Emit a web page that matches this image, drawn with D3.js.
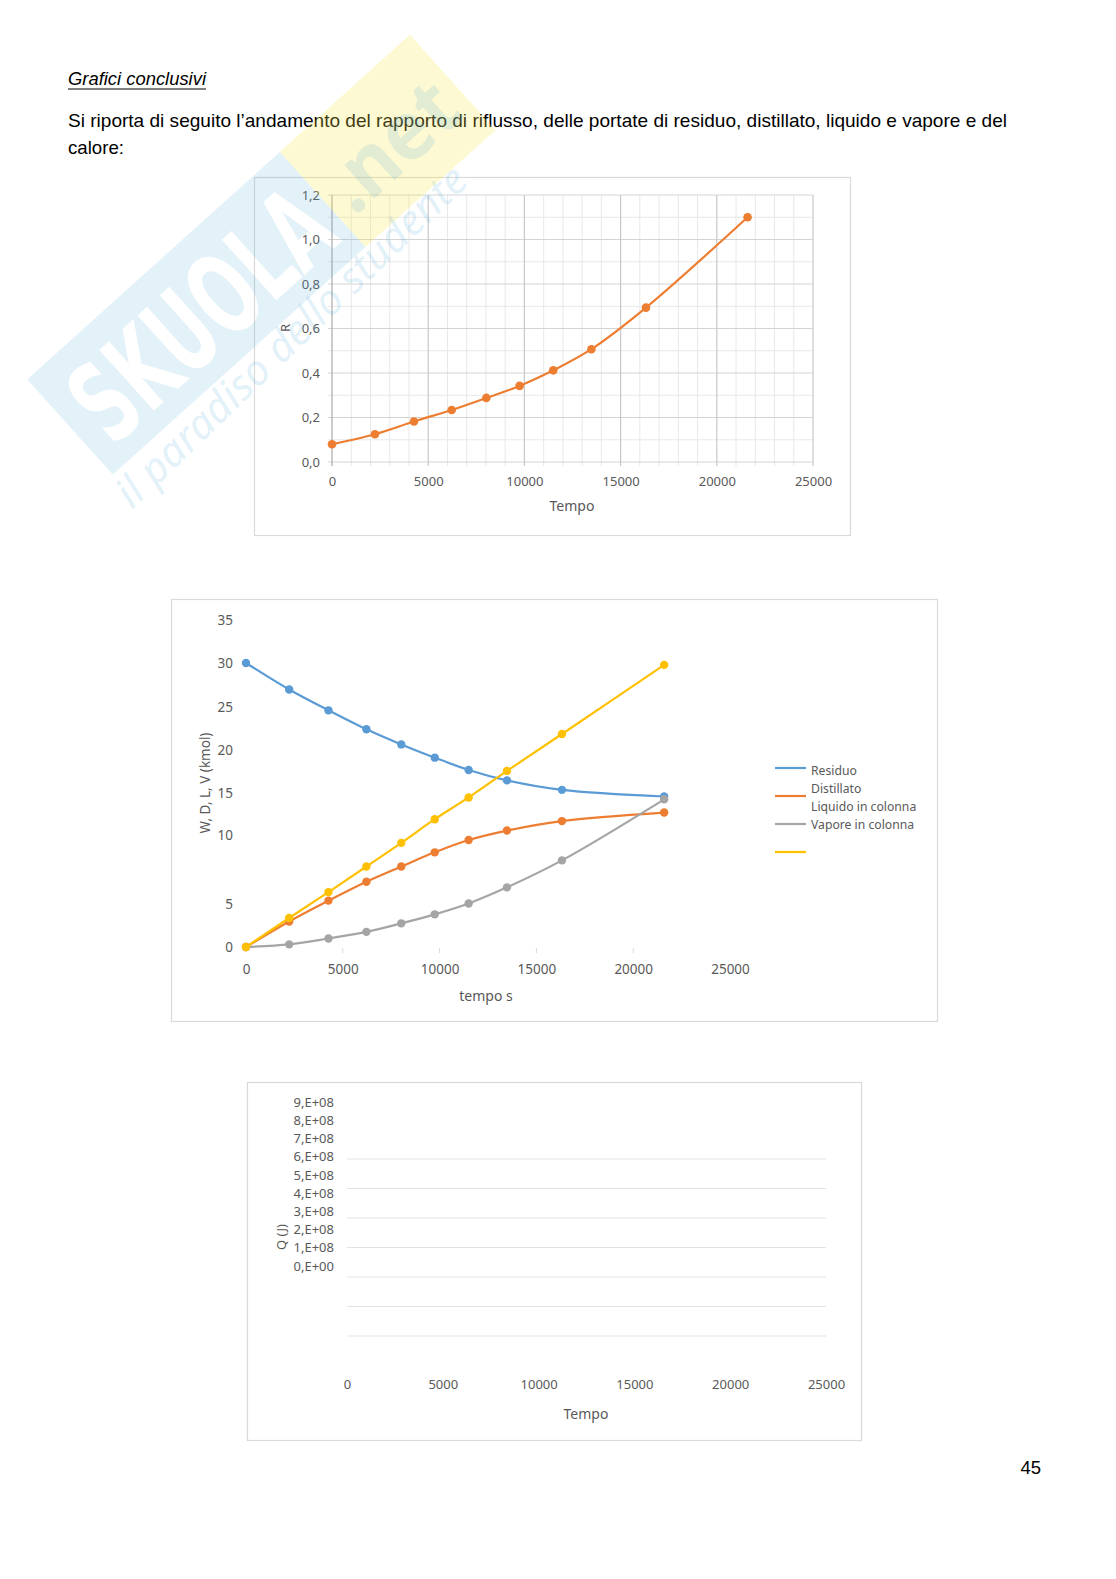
<!DOCTYPE html>
<html>
<head>
<meta charset="utf-8">
<script src="https://cdn.jsdelivr.net/npm/d3@7"></script>
<style>
  html, body { margin: 0; padding: 0; background: #fff; overflow: hidden; }
  svg { display: block; }
  svg text { font-family: "Noto Sans", "Open Sans", sans-serif; }
</style>
</head>
<body>
<div id="page"></div>
<script>
// Dati
const tempo = [0, 2230, 4260, 6220, 8020, 9750, 11500, 13480, 16320, 21600];
const rapportoR = [0.08, 0.125, 0.182, 0.234, 0.288, 0.342, 0.412, 0.507, 0.694, 1.10];

const residuo = [30, 27.2, 25.0, 23.0, 21.4, 20.0, 18.7, 17.6, 16.6, 15.9];
const distillato = [0, 2.7, 4.9, 6.9, 8.5, 10.0, 11.3, 12.3, 13.3, 14.2];
const liquido = [0, 0.28, 0.9, 1.6, 2.5, 3.45, 4.6, 6.3, 9.15, 15.6];
const vapore = [0, 3.06, 5.8, 8.5, 11.0, 13.5, 15.8, 18.6, 22.5, 29.8];
const nomiSerie = ["Residuo", "Distillato", "Liquido in colonna", "Vapore in colonna"];
const coloriSerie = ["#5b9bd5", "#ed7d31", "#a5a5a5", "#ffc000"];

// etichette asse y del secondo grafico (posizioni come appaiono)
const etichetteY2 = ["0", "5", "10", "15", "20", "25", "30", "35"];
const posizioniY2 = [0, 4.55, 11.8, 16.2, 20.8, 25.35, 30, 34.5];

// terzo grafico (vuoto)
const etichetteQ = ["0,E+00", "1,E+08", "2,E+08", "3,E+08", "4,E+08", "5,E+08", "6,E+08", "7,E+08", "8,E+08", "9,E+08"];
const xTicks = [0, 5000, 10000, 15000, 20000, 25000];

const W = 1116, H = 1579;
const grigioTesto = "#595959";

const svg = d3.select("#page").append("svg")
    .attr("width", W)
    .attr("height", H);

// --- testo del documento ---
const corpo = "Liberation Sans, Arial, sans-serif";
svg.append("text")
    .attr("x", 68).attr("y", 85)
    .attr("font-size", 18)
    .attr("font-style", "italic")
    .style("font-family", corpo)
    .attr("textLength", 138)
    .attr("lengthAdjust", "spacingAndGlyphs")
    .text("Grafici conclusivi");
svg.append("line")
    .attr("x1", 68).attr("x2", 206)
    .attr("y1", 89).attr("y2", 89)
    .attr("stroke", "#000").attr("stroke-width", 1);
svg.append("text")
    .attr("x", 68).attr("y", 127)
    .attr("font-size", 18.5)
    .style("font-family", corpo)
    .attr("textLength", 939)
    .attr("lengthAdjust", "spacingAndGlyphs")
    .text("Si riporta di seguito l\u2019andamento del rapporto di riflusso, delle portate di residuo, distillato, liquido e vapore e del");
svg.append("text")
    .attr("x", 68).attr("y", 154)
    .attr("font-size", 18.5)
    .style("font-family", corpo)
    .attr("textLength", 56)
    .attr("lengthAdjust", "spacingAndGlyphs")
    .text("calore:");
svg.append("text")
    .attr("x", 1041).attr("y", 1474)
    .attr("text-anchor", "end")
    .attr("font-size", 18.5)
    .style("font-family", corpo)
    .text("45");

function cornice(x0, y0, x1, y1) {
    svg.append("rect")
        .attr("x", x0 + 0.5).attr("y", y0 + 0.5)
        .attr("width", x1 - x0).attr("height", y1 - y0)
        .attr("fill", "none")
        .attr("stroke", "#d9d9d9")
        .attr("stroke-width", 1.2);
}

// ================= Grafico 1: R =================
cornice(254, 177, 850, 535);
const x1 = d3.scaleLinear().domain([0, 25000]).range([332, 813]);
const y1 = d3.scaleLinear().domain([0, 1.2]).range([462, 195]);
const g1 = svg.append("g");

// griglia minore
g1.append("g").selectAll("line")
    .data(d3.range(0, 25001, 1000).filter(v => v % 5000 !== 0))
    .join("line")
    .attr("x1", d => x1(d)).attr("x2", d => x1(d))
    .attr("y1", y1(1.2)).attr("y2", y1(0) + 4)
    .attr("stroke", "#e8e8e8");
g1.append("g").selectAll("line")
    .data(d3.range(1, 12, 2).map(v => v / 10))
    .join("line")
    .attr("x1", x1(0) - 4).attr("x2", x1(25000))
    .attr("y1", d => y1(d)).attr("y2", d => y1(d))
    .attr("stroke", "#e8e8e8");
// griglia maggiore
g1.append("g").selectAll("line")
    .data(d3.range(0, 1.21, 0.2))
    .join("line")
    .attr("x1", x1(0) - 4).attr("x2", x1(25000))
    .attr("y1", d => y1(d)).attr("y2", d => y1(d))
    .attr("stroke", "#d4d4d4");
g1.append("g").selectAll("line")
    .data(xTicks)
    .join("line")
    .attr("x1", d => x1(d)).attr("x2", d => x1(d))
    .attr("y1", y1(1.2)).attr("y2", y1(0) + 4)
    .attr("stroke", d => d === 0 ? "#b0b0b0" : "#c8c8c8")
    .attr("stroke-width", d => d === 0 ? 1.3 : 1.2);

// assi (solo etichette)
const ax1 = g1.append("g")
    .attr("transform", "translate(0," + (y1(0) + 3) + ")")
    .call(d3.axisBottom(x1).tickValues(xTicks).tickSize(0).tickPadding(12).tickFormat(d3.format("d")));
const ay1 = g1.append("g")
    .attr("transform", "translate(" + (x1(0) - 8) + ",0)")
    .call(d3.axisLeft(y1).tickValues(d3.range(0, 1.21, 0.2)).tickSize(0).tickPadding(4)
        .tickFormat(d => d3.format(".1f")(d).replace(".", ",")));
[ax1, ay1].forEach(a => {
    a.select(".domain").remove();
    a.selectAll("text").attr("fill", grigioTesto).attr("font-size", 13)
        .style("font-family", "Noto Sans, sans-serif");
});

g1.append("path")
    .datum(tempo.map((t, i) => [t, rapportoR[i]]))
    .attr("fill", "none")
    .attr("stroke", "#ed7d31")
    .attr("stroke-width", 2.2)
    .attr("d", d3.line().x(d => x1(d[0])).y(d => y1(d[1])).curve(d3.curveCatmullRom));
g1.append("g").selectAll("circle")
    .data(tempo.map((t, i) => [t, rapportoR[i]]))
    .join("circle")
    .attr("cx", d => x1(d[0])).attr("cy", d => y1(d[1]))
    .attr("r", 4.3)
    .attr("fill", "#ed7d31");

g1.append("text")
    .attr("transform", "translate(290,328) rotate(-90)")
    .attr("text-anchor", "middle")
    .attr("font-size", 13).attr("fill", grigioTesto)
    .text("R");
g1.append("text")
    .attr("x", 572).attr("y", 511)
    .attr("text-anchor", "middle")
    .attr("font-size", 14).attr("fill", grigioTesto)
    .text("Tempo");

// ================= Grafico 2: W, D, L, V =================
cornice(171, 599, 937, 1021);
const x2 = d3.scaleLinear().domain([0, 25000]).range([246, 730]);
const y2 = d3.scaleLinear().domain([0, 30]).range([947, 663]);
const g2 = svg.append("g");

// piccole tacche
g2.append("g").selectAll("line")
    .data(xTicks.slice(1, 5))
    .join("line")
    .attr("x1", d => x2(d)).attr("x2", d => x2(d))
    .attr("y1", 948).attr("y2", 953)
    .attr("stroke", "#d9d9d9");

const ax2 = g2.append("g")
    .attr("transform", "translate(0,956)")
    .call(d3.axisBottom(x2).tickValues(xTicks).tickSize(0).tickPadding(8).tickFormat(d3.format("d")));
const ay2 = g2.append("g")
    .attr("transform", "translate(235,0)")
    .call(d3.axisLeft(y2).tickValues(posizioniY2).tickSize(0).tickPadding(2)
        .tickFormat((d, i) => etichetteY2[i]));
[ax2, ay2].forEach(a => {
    a.select(".domain").remove();
    a.selectAll("text").attr("fill", grigioTesto).attr("font-size", 13.5)
        .style("font-family", "Noto Sans, sans-serif");
});

const serie = [residuo, distillato, liquido, vapore];
const linea2 = d3.line().x(d => x2(d[0])).y(d => y2(d[1])).curve(d3.curveCatmullRom);
serie.forEach((valori, k) => {
    const punti = tempo.map((t, i) => [t, valori[i]]);
    g2.append("path")
        .datum(punti)
        .attr("fill", "none")
        .attr("stroke", coloriSerie[k])
        .attr("stroke-width", 2.2)
        .attr("d", linea2);
    g2.append("g").selectAll("circle")
        .data(punti)
        .join("circle")
        .attr("cx", d => x2(d[0])).attr("cy", d => y2(d[1]))
        .attr("r", 4.2)
        .attr("fill", coloriSerie[k]);
});

g2.append("text")
    .attr("x", 486).attr("y", 1001)
    .attr("text-anchor", "middle")
    .attr("font-size", 14).attr("fill", grigioTesto)
    .text("tempo s");
g2.append("text")
    .attr("transform", "translate(210,783) rotate(-90)")
    .attr("text-anchor", "middle")
    .attr("font-size", 13.5).attr("fill", grigioTesto)
    .text("W, D, L, V (kmol)");

// legenda (linee e nomi sfalsati come nel foglio)
const leg = g2.append("g");
leg.selectAll("line")
    .data(coloriSerie)
    .join("line")
    .attr("x1", 775).attr("x2", 806)
    .attr("y1", (d, i) => 768 + i * 28).attr("y2", (d, i) => 768 + i * 28)
    .attr("stroke", d => d)
    .attr("stroke-width", 2.2);
leg.selectAll("text")
    .data(nomiSerie)
    .join("text")
    .attr("x", 811)
    .attr("y", (d, i) => 775 + i * 18)
    .attr("font-size", 12.2)
    .attr("fill", grigioTesto)
    .text(d => d);

// ================= Grafico 3: Q =================
cornice(247, 1082, 861, 1440);
const x3 = d3.scaleLinear().domain([0, 25000]).range([347, 826]);
const yEtichette = d3.scaleLinear().domain([0, 9]).range([1266, 1102]);
const yGriglia = d3.scaleLinear().domain([0, 6]).range([1336, 1159]);
const g3 = svg.append("g");

g3.append("g").selectAll("line")
    .data(d3.range(0, 7))
    .join("line")
    .attr("x1", x3(0)).attr("x2", x3(25000))
    .attr("y1", d => yGriglia(d)).attr("y2", d => yGriglia(d))
    .attr("stroke", "#e3e3e3")
    .attr("stroke-width", 1.2);

const ax3 = g3.append("g")
    .attr("transform", "translate(0,1380)")
    .call(d3.axisBottom(x3).tickValues(xTicks).tickSize(0).tickPadding(0).tickFormat(d3.format("d")));
const ay3 = g3.append("g")
    .attr("transform", "translate(336,0)")
    .call(d3.axisLeft(yEtichette).tickValues(d3.range(0, 10)).tickSize(0).tickPadding(2)
        .tickFormat(d => etichetteQ[d]));
[ax3, ay3].forEach(a => {
    a.select(".domain").remove();
    a.selectAll("text").attr("fill", grigioTesto).attr("font-size", 13)
        .style("font-family", "Noto Sans, sans-serif");
});

g3.append("text")
    .attr("x", 586).attr("y", 1419)
    .attr("text-anchor", "middle")
    .attr("font-size", 14).attr("fill", grigioTesto)
    .text("Tempo");
g3.append("text")
    .attr("transform", "translate(286,1237) rotate(-90)")
    .attr("text-anchor", "middle")
    .attr("font-size", 13).attr("fill", grigioTesto)
    .text("Q (J)");

// --- filigrana (sopra, trasparente) ---
const defs = svg.append("defs");
const maschera = defs.append("mask").attr("id", "mascheraLogo")
    .attr("maskUnits", "userSpaceOnUse")
    .attr("x", -100).attr("y", -200).attr("width", 800).attr("height", 400);
maschera.append("rect")
    .attr("x", -100).attr("y", -200).attr("width", 800).attr("height", 400)
    .attr("fill", "#fff");
maschera.append("text")
    .attr("x", 18).attr("y", 44)
    .attr("font-size", 112)
    .attr("font-weight", "bold")
    .attr("fill", "#000")
    .style("font-family", "DejaVu Sans, sans-serif")
    .attr("textLength", 310)
    .attr("lengthAdjust", "spacingAndGlyphs")
    .text("SKUOLA");

const wm = svg.append("g")
    .attr("transform", "translate(70,427) rotate(-42)")
    .style("pointer-events", "none");
wm.append("rect")
    .attr("x", 0).attr("y", -64)
    .attr("width", 340).attr("height", 128)
    .attr("fill", "#4ea6dc")
    .attr("fill-opacity", 0.16)
    .attr("mask", "url(#mascheraLogo)");
wm.append("rect")
    .attr("x", 340).attr("y", -64)
    .attr("width", 175).attr("height", 128)
    .attr("fill", "#f7e84a")
    .attr("fill-opacity", 0.25);
wm.append("text")
    .attr("x", 352).attr("y", 34)
    .attr("font-size", 82)
    .attr("font-weight", "bold")
    .attr("fill", "#4ea6dc")
    .attr("fill-opacity", 0.16)
    .attr("textLength", 150)
    .attr("lengthAdjust", "spacingAndGlyphs")
    .text(".net");
svg.append("text")
    .attr("transform", "translate(132,510) rotate(-44)")
    .attr("font-size", 42)
    .attr("font-style", "italic")
    .attr("fill", "#4ea6dc")
    .attr("fill-opacity", 0.17)
    .attr("textLength", 470)
    .attr("lengthAdjust", "spacingAndGlyphs")
    .text("il paradiso dello studente");
</script>
</body>
</html>
